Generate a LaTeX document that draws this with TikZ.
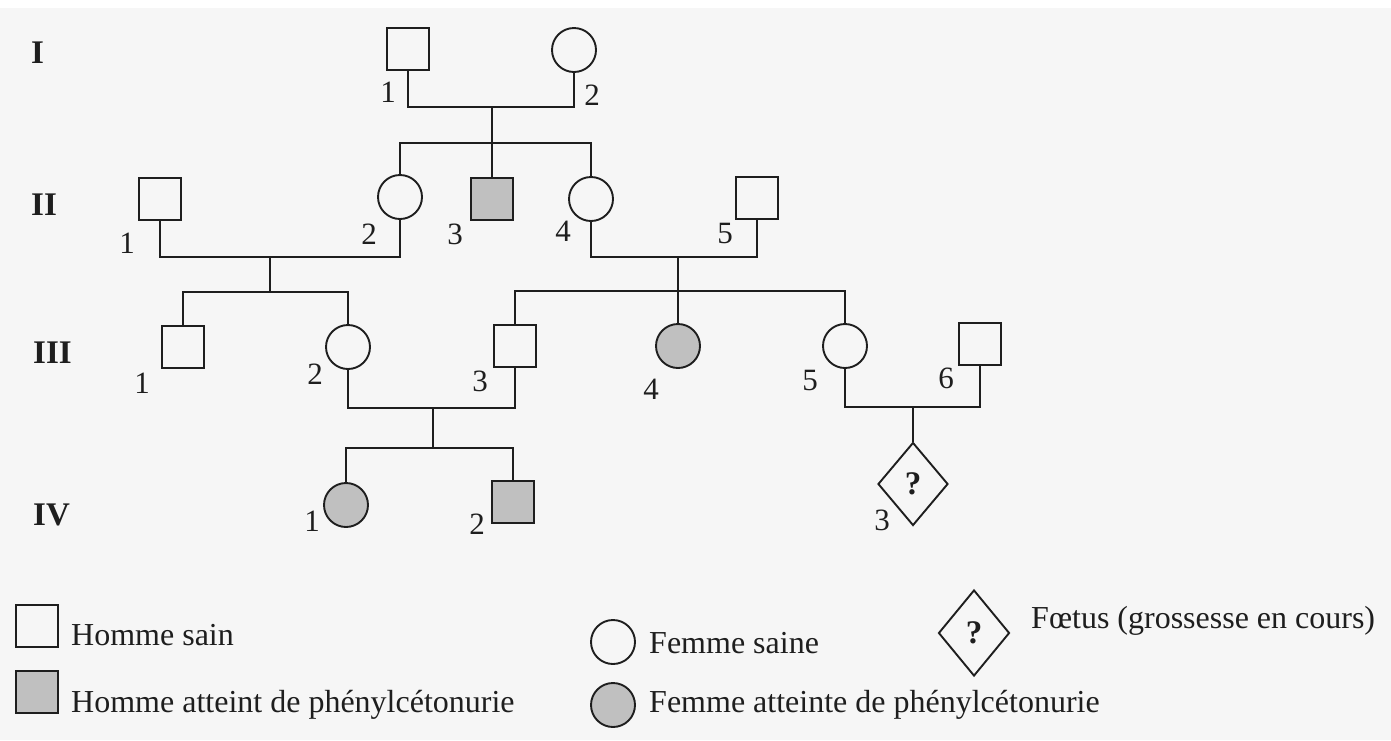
\documentclass[tikz,border=0pt]{standalone}
\usepackage{fontspec}
\setmainfont{Liberation Serif}
\usetikzlibrary{shapes.geometric}
\definecolor{bgc}{RGB}{246,246,246}
\definecolor{ink}{RGB}{30,30,30}
\definecolor{aff}{RGB}{192,192,192}
\begin{document}
\begin{tikzpicture}[x=1pt,y=-1pt,
  lw/.style={line width=1.9pt, draw=ink},
  male/.style={rectangle, lw, minimum size=42pt, inner sep=0pt},
  female/.style={circle, lw, minimum size=44pt, inner sep=0pt},
  sick/.style={fill=aff},
  fetus/.style={diamond, lw, minimum width=70pt, minimum height=83pt, inner sep=0pt,
    font=\fontsize{33}{35}\selectfont\bfseries, text=ink},
  num/.style={inner sep=0pt, font=\fontsize{31}{34}\selectfont, text=ink},
  gen/.style={inner sep=0pt, anchor=base west, font=\fontsize{33}{36}\selectfont\bfseries, text=ink},
  leg/.style={inner sep=0pt, anchor=base west, font=\fontsize{32}{36}\selectfont, text=ink},
  link/.style={line width=1.9pt, draw=ink}
]
\useasboundingbox (0,0) rectangle (1391,740);
\fill[white] (0,0) rectangle (1391,740);
\fill[bgc] (0,8) rectangle (1391,740);

% generation labels
\node[gen] (gI) at (31,63) {I};
\node[gen] (gII) at (31,215) {II};
\node[gen] (gIII) at (33,363) {III};
\node[gen] (gIV) at (33,525) {IV};

% generation I
\node[male] (I1) at (408,49) {};
\node[female] (I2) at (574,50) {};
% generation II
\node[male] (II1) at (160,199) {};
\node[female] (II2) at (400,197) {};
\node[male,sick] (II3) at (492,199) {};
\node[female] (II4) at (591,199) {};
\node[male] (II5) at (757,198) {};
% generation III
\node[male] (III1) at (183,347) {};
\node[female] (III2) at (348,347) {};
\node[male] (III3) at (515,346) {};
\node[female,sick] (III4) at (678,346) {};
\node[female] (III5) at (845,346) {};
\node[male] (III6) at (980,344) {};
% generation IV
\node[female,sick] (IV1) at (346,505) {};
\node[male,sick] (IV2) at (513,502) {};
\node[fetus] (IV3) at (913,484) {\raisebox{-3pt}{?}};

% numbers
\node[num] (nI1) at (388,92) {1};
\node[num] (nI2) at (592,95) {2};
\node[num] (nII1) at (127,243) {1};
\node[num] (nII2) at (369,234) {2};
\node[num] (nII3) at (455,234) {3};
\node[num] (nII4) at (563,231) {4};
\node[num] (nII5) at (725,233) {5};
\node[num] (nIII1) at (142,383) {1};
\node[num] (nIII2) at (315,374) {2};
\node[num] (nIII3) at (480,381) {3};
\node[num] (nIII4) at (651,389) {4};
\node[num] (nIII5) at (810,380) {5};
\node[num] (nIII6) at (946,378) {6};
\node[num] (nIV1) at (312,521) {1};
\node[num] (nIV2) at (477,524) {2};
\node[num] (nIV3) at (882,520) {3};

% junction coordinates
\coordinate (mI) at (492,107);
\coordinate (sI) at (492,143);
\coordinate (mII1) at (270,257);
\coordinate (sIII1) at (270,292);
\coordinate (mII2) at (678,257);
\coordinate (sIII2) at (678,291);
\coordinate (mIII1) at (433,408);
\coordinate (sIV1) at (433,448);
\coordinate (mIII2) at (913,407);

% connectors
\draw[link] (I1.south) |- (mI) -| (I2.south);
\draw[link] (mI) -- (sI);
\draw[link] (II2.north) |- (sI) -| (II4.north);
\draw[link] (sI) -- (II3.north);

\draw[link] (II1.south) |- (mII1) -| (II2.south);
\draw[link] (mII1) -- (sIII1);
\draw[link] (III1.north) |- (sIII1) -| (III2.north);

\draw[link] (II4.south) |- (mII2) -| (II5.south);
\draw[link] (mII2) -- (III4.north);
\draw[link] (III3.north) |- (sIII2) -| (III5.north);

\draw[link] (III2.south) |- (mIII1) -| (III3.south);
\draw[link] (mIII1) -- (sIV1);
\draw[link] (IV1.north) |- (sIV1) -| (IV2.north);

\draw[link] (III5.south) |- (mIII2) -| (III6.south);
\draw[link] (mIII2) -- (IV3.north);

% legend
\node[male] (Lm) at (37,626) {};
\node[male,sick] (Lma) at (37,692) {};
\node[leg] (tLm) at (71,645) {Homme sain};
\node[leg] (tLma) at (71,712) {Homme atteint de phénylcétonurie};
\node[female] (Lf) at (613,642) {};
\node[female,sick] (Lfa) at (613,705) {};
\node[leg] (tLf) at (649,653) {Femme saine};
\node[leg] (tLfa) at (649,712) {Femme atteinte de phénylcétonurie};
\node[fetus, minimum width=71pt, minimum height=86pt] (Lx) at (974,633) {\raisebox{-3pt}{?}};
\node[leg] (tLx) at (1031,628) {Fœtus (grossesse en cours)};
\end{tikzpicture}
\end{document}
